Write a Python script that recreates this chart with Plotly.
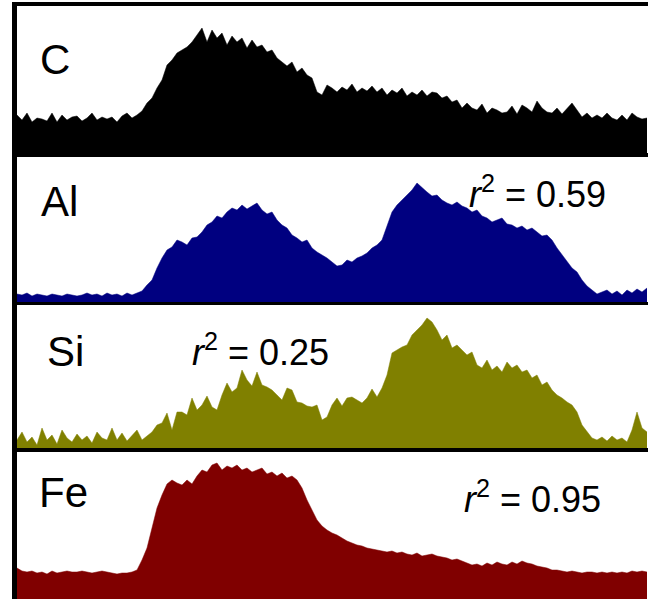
import plotly.graph_objects as go

# ---- data (intensity profiles) ----
C_vals = [38,33,40,31,35,34,32,40,31,38,33,36,37,32,35,40,33,36,34,36,31,37,40,35,38,
          42,50,55,65,73,88,93,100,103,106,111,118,125,111,123,115,120,108,117,111,115,105,113,106,108,
          101,103,95,91,87,91,81,85,78,75,61,58,68,65,61,66,63,69,61,65,62,67,61,65,58,
          63,60,65,57,61,58,63,57,61,60,55,57,51,53,45,50,45,43,49,40,45,43,40,41,47,
          39,48,45,41,52,45,41,40,45,39,45,50,43,36,40,35,38,35,40,35,33,38,33,40,36,34,35]
Al_vals = [8,7,9,6,8,7,6,8,7,6,8,7,6,7,9,7,8,6,9,7,8,6,9,7,9,
           11,17,22,34,44,52,55,62,60,57,64,65,70,77,80,86,84,90,94,92,97,93,96,99,92,
           88,90,82,77,74,67,64,60,62,54,50,47,44,40,36,37,42,40,44,46,49,54,57,62,77,
           90,97,102,107,112,119,114,110,106,107,102,99,97,100,96,94,90,92,86,84,80,82,84,78,77,
           74,76,72,74,70,66,67,62,54,47,40,34,30,22,16,12,8,10,12,8,11,7,12,9,13,10,14]
Si_vals = [8,16,6,11,3,20,8,13,4,18,10,6,14,8,12,5,16,10,8,20,8,15,7,12,18,
           8,12,16,23,25,35,18,36,36,33,50,38,43,52,41,38,53,65,56,60,78,68,62,76,63,
           61,58,53,48,60,58,46,45,42,41,43,28,31,43,50,42,50,51,48,45,50,59,51,60,73,
           95,98,101,103,113,118,123,130,126,118,108,113,100,103,98,93,96,83,80,88,78,82,76,86,80,
           83,76,78,70,73,63,66,58,53,50,46,43,36,23,16,10,8,11,7,12,8,10,6,18,36,20,16]
Fe_vals = [31,28,27,28,26,27,25,28,26,27,28,27,27,28,27,26,27,28,27,26,25,26,26,27,29,
           39,51,71,91,104,115,119,116,114,119,115,123,129,127,134,136,129,133,131,134,129,131,127,129,131,
           125,127,123,126,121,123,119,111,99,89,79,73,69,66,64,61,58,56,54,53,51,50,49,48,47,
           48,46,47,45,44,46,43,44,45,43,42,41,39,40,38,36,34,35,33,36,34,37,35,34,37,
           35,38,36,35,33,32,31,29,29,28,27,28,27,26,27,27,26,27,26,27,26,27,26,28,27,28,27]

labels = ["C", "Al", "Si", "Fe"]
colors = ["#000000", "#000080", "#808000", "#800000"]
r2_texts = [None, "0.59", "0.25", "0.95"]
series = [C_vals, Al_vals, Si_vals, Fe_vals]

W, H = 648, 599
# panel pixel extents (top, bottom)
panels = [(6, 153), (157, 302), (305, 448), (452, 599)]

fig = go.Figure()
for i, (vals, col) in enumerate(zip(series, colors)):
    ax = "" if i == 0 else str(i + 1)
    fig.add_trace(go.Scatter(
        x=list(range(len(vals))), y=vals, mode="lines",
        fill="tozeroy", fillcolor=col, line=dict(color=col, width=0.5),
        xaxis="x" + ax, yaxis="y" + ax, showlegend=False, hoverinfo="skip"))

xdom = [17 / W, 1]
layout = dict(width=W, height=H, margin=dict(l=0, r=0, t=0, b=0),
              paper_bgcolor="white", plot_bgcolor="white", showlegend=False)
for i, (t, b) in enumerate(panels):
    ax = "" if i == 0 else str(i + 1)
    layout["xaxis" + ax] = dict(domain=xdom, range=[0, 126.2], visible=False,
                                anchor="y" + ax)
    layout["yaxis" + ax] = dict(domain=[1 - b / H, 1 - t / H], range=[0, b - t],
                                visible=False, anchor="x" + ax)
fig.update_layout(**layout)

def py(p):
    return 1 - p / H

shapes = []
# left border
shapes.append(dict(type="rect", xref="paper", yref="paper", x0=12 / W, x1=17 / W,
                   y0=py(599), y1=py(2), fillcolor="black", line=dict(width=0), layer="above"))
# top border
shapes.append(dict(type="rect", xref="paper", yref="paper", x0=14 / W, x1=1,
                   y0=py(6), y1=py(2), fillcolor="black", line=dict(width=0), layer="above"))
# separators
for (a, b) in [(153, 157), (302, 305), (448, 452)]:
    shapes.append(dict(type="rect", xref="paper", yref="paper", x0=12 / W, x1=1,
                       y0=py(b), y1=py(a), fillcolor="black", line=dict(width=0), layer="above"))
fig.update_layout(shapes=shapes)

font = "Liberation Sans, Arial, sans-serif"
label_pos = [(38, 59), (39, 201), (45, 351), (37, 492)]
annotations = []
for lab, (x, y) in zip(labels, label_pos):
    annotations.append(dict(text=lab, x=x / W, y=py(y), xref="paper", yref="paper",
                            xanchor="left", yanchor="middle", showarrow=False,
                            font=dict(family=font, size=42, color="black")))
r2_pos = [None, (467, 192), (190, 350), (462, 497)]
for txt, pos in zip(r2_texts, r2_pos):
    if txt is None:
        continue
    annotations.append(dict(text="<i>r</i><sup>2</sup> = " + txt, x=pos[0] / W, y=py(pos[1]),
                            xref="paper", yref="paper", xanchor="left", yanchor="middle",
                            showarrow=False, font=dict(family=font, size=36, color="black")))
fig.update_layout(annotations=annotations)

fig.write_html("out.html")
